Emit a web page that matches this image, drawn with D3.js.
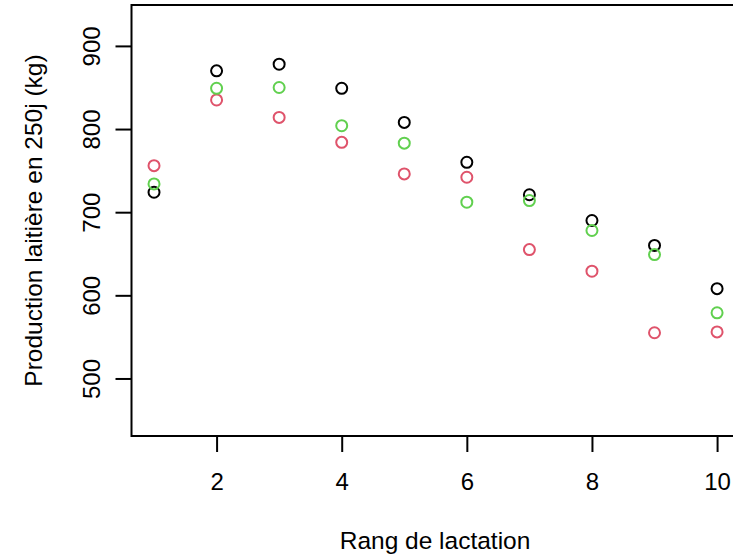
<!DOCTYPE html>
<html>
<head>
<meta charset="utf-8">
<script src="https://cdn.jsdelivr.net/npm/d3@7"></script>
<style>
  html, body { margin: 0; padding: 0; background: #fff; }
  svg { display: block; font-family: "Liberation Sans", Arial, Helvetica, sans-serif; }
</style>
</head>
<body>
<svg id="chart" width="733" height="555"></svg>
<script>
// Rang de lactation (1 à 10)
const rangs = [1, 2, 3, 4, 5, 6, 7, 8, 9, 10];

// Production laitière en 250 jours (kg), trois groupes
const prodNoir  = [724, 870, 878, 849, 808, 760, 721, 690, 660, 608];
const prodRouge = [756, 835, 814, 784, 746, 742, 655, 629, 555, 556];
const prodVert  = [734, 849, 850, 804, 783, 712, 714, 678, 649, 579];

const xTicks = [2, 4, 6, 8, 10];
const yTicks = [500, 600, 700, 800, 900];

const xLabel = "Rang de lactation";
const yLabel = "Production laitière en 250j (kg)";

const series = [
  { values: prodNoir,  color: "#000000" },
  { values: prodRouge, color: "#DF536B" },
  { values: prodVert,  color: "#61D04F" }
];

// Plot region (R-style 4% extension of the axis limits)
const plot = { left: 131.5, right: 739.6, top: 5, bottom: 436 };

const x = d3.scaleLinear().domain([0.64, 10.36]).range([plot.left, plot.right]);
const y = d3.scaleLinear().domain([430.8, 949.2]).range([plot.bottom, plot.top]);

const svg = d3.select("#chart");
const fontSize = 24;
const titleSize = 24.5;

// X axis
const gx = svg.append("g")
  .attr("transform", `translate(0,${plot.bottom})`)
  .call(d3.axisBottom(x).tickValues(xTicks).tickSize(16).tickFormat(d3.format("d")));
gx.select(".domain").remove();
gx.selectAll(".tick line").attr("stroke", "#000").attr("stroke-width", 2);
gx.selectAll(".tick text")
  .attr("y", 54).attr("dy", 0)
  .attr("fill", "#000")
  .style("font-size", fontSize + "px")
  .style("font-family", "Liberation Sans, Arial, sans-serif");

// Y axis with labels parallel to the axis
const gy = svg.append("g")
  .attr("transform", `translate(${plot.left},0)`)
  .call(d3.axisLeft(y).tickValues(yTicks).tickSize(16).tickFormat(d3.format("d")));
gy.select(".domain").remove();
gy.selectAll(".tick line").attr("stroke", "#000").attr("stroke-width", 2);
gy.selectAll(".tick text")
  .attr("x", null).attr("dy", null)
  .attr("transform", "translate(-31.5,0) rotate(-90)")
  .attr("text-anchor", "middle")
  .attr("fill", "#000")
  .style("font-size", fontSize + "px")
  .style("font-family", "Liberation Sans, Arial, sans-serif");

// Box around the plot region
svg.append("rect")
  .attr("x", plot.left).attr("y", plot.top)
  .attr("width", plot.right - plot.left)
  .attr("height", plot.bottom - plot.top)
  .attr("fill", "none").attr("stroke", "#000").attr("stroke-width", 2);

// Points (open circles)
series.forEach(s => {
  svg.append("g")
    .selectAll("circle")
    .data(rangs.map((r, i) => ({ r, v: s.values[i] })))
    .join("circle")
    .attr("cx", d => x(d.r))
    .attr("cy", d => y(d.v))
    .attr("r", 5.5)
    .attr("fill", "none")
    .attr("stroke", s.color)
    .attr("stroke-width", 2);
});

// Axis titles
svg.append("text")
  .attr("x", (plot.left + plot.right) / 2 - 0.5)
  .attr("y", 549)
  .attr("text-anchor", "middle")
  .style("font-size", titleSize + "px")
  .text(xLabel);

svg.append("text")
  .attr("transform", `translate(42,${(plot.top + plot.bottom) / 2}) rotate(-90)`)
  .attr("text-anchor", "middle")
  .style("font-size", titleSize + "px")
  .text(yLabel);
</script>
</body>
</html>
